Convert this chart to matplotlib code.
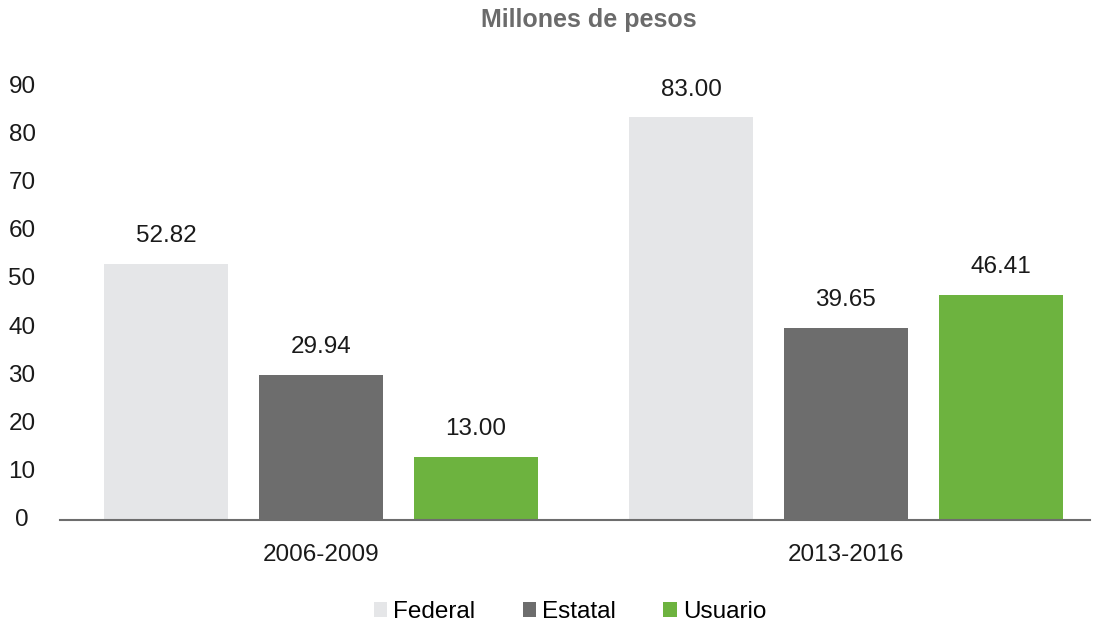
import matplotlib
matplotlib.use("Agg")
import matplotlib.pyplot as plt
import numpy as np

plt.rcParams['font.family'] = ['Liberation Sans', 'DejaVu Sans']

periods = ["2006-2009", "2013-2016"]
series = ["Federal", "Estatal", "Usuario"]
federal = [52.82, 83.00]
estatal = [29.94, 39.65]
usuario = [13.00, 46.41]
colors = ["#E5E6E8", "#6D6D6D", "#6DB33F"]
yticks = [0, 10, 20, 30, 40, 50, 60, 70, 80, 90]

FS = 17.5
fig = plt.figure(figsize=(10.96, 6.26), dpi=100)
ppu = 4.85
ax = fig.add_axes([60/1096, 106/626, 1030/1096, 95 * ppu / 626])

x = np.arange(len(periods))
width = 0.236
offset = 0.295
for i, (vals, name, c) in enumerate(zip([federal, estatal, usuario], series, colors)):
    bars = ax.bar(x + (i - 1) * offset, vals, width, color=c, label=name)
    for b, v in zip(bars, vals):
        ax.annotate(f"{v:.2f}", (b.get_x() + b.get_width() / 2, v),
                    xytext=(0, 20), textcoords="offset points",
                    ha="center", va="center", fontsize=FS, color="#1a1a1a")

ax.set_xlim(-0.497, 1.465)
ax.set_ylim(0, 95)
ax.set_xticks(x)
ax.set_xticklabels(periods, fontsize=FS, color="#1a1a1a")
ax.set_yticks([])
for t in yticks:
    fig.text(22/1096, (106 + t * 433 / 90) / 626, str(t), ha="center", va="center",
             fontsize=FS, color="#1a1a1a")
ax.tick_params(axis="x", length=0, pad=17)
for s in ["top", "right", "left"]:
    ax.spines[s].set_visible(False)
ax.spines["bottom"].set_color("#6D6D6D")
ax.spines["bottom"].set_linewidth(1.5)

fig.text(589/1096, 1 - 20/626, "Millones de pesos", ha="center", va="center",
         fontsize=18, fontweight="bold", color="#6B6B6B")

leg = fig.legend(loc="center", bbox_to_anchor=(570/1096, 1 - 612/626), ncol=3,
                 frameon=False, fontsize=FS, handlelength=0.55, handleheight=0.55,
                 handletextpad=0.25, columnspacing=1.95)

fig.savefig("out.png", dpi=100)
